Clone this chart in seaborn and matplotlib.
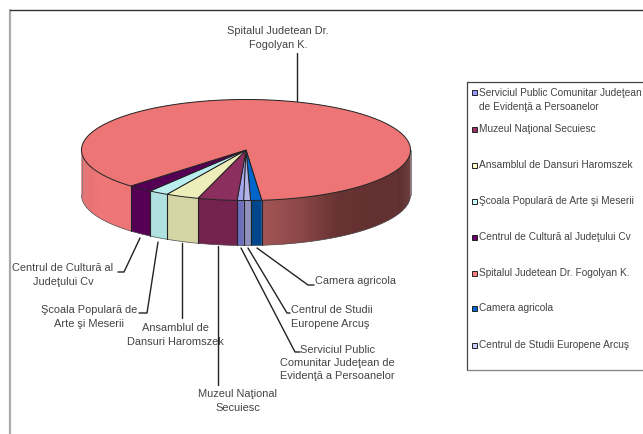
import numpy as np
import seaborn as sns
import matplotlib.pyplot as plt
from matplotlib.patches import Rectangle

sns.set_theme(style="white")
plt.rcParams['font.family'] = ['Liberation Sans', 'DejaVu Sans']

# Data, in legend order (clockwise round the pie)
names = ['Serviciul Public Comunitar Judeţean\nde Evidenţă a Persoanelor',
         'Muzeul Naţional Secuiesc',
         'Ansamblul de Dansuri Haromszek',
         'Şcoala Populară de Arte şi Meserii',
         'Centrul de Cultură al Judeţului Cv',
         'Spitalul Judetean Dr. Fogolyan K.',
         'Camera agricola',
         'Centrul de Studii Europene Arcuş']
shares = [0.67, 3.86, 3.25, 1.94, 2.44, 86.12, 1.08, 0.67]
labels = ['Serviciul Public\nComunitar Judeţean de\nEvidenţă a Persoanelor',
          'Muzeul Naţional\nSecuiesc',
          'Ansamblul de\nDansuri Haromszek',
          'Şcoala Populară de\nArte şi Meserii',
          'Centrul de Cultură al\nJudeţului Cv',
          'Spitalul Judetean Dr.\nFogolyan K.',
          'Camera agricola',
          'Centrul de Studii\nEuropene Arcuş']

legend_colors = sns.color_palette(['#9999FF', '#993366', '#FFFFCC', '#CCFFFF',
                                   '#660066', '#FF8080', '#0066CC', '#CCCCFF'])
top_colors = ['#A3A3EE', '#8C2F5E', '#EEEEBB', '#BBEEEE',
              '#550055', '#ED7575', '#0066CC', '#B4B4E6']
side_colors = ['#6E6EBE', '#74224E', '#D4D4A5', '#AFE1E1',
               '#550055', None, '#00468C', '#9191BE']

# pie geometry in picture pixels
cx, cy = 246, 150
a, b = 164.5, 50.5
depth = 45
start = 0.7
text_col = '#444444'

fig = plt.figure(figsize=(6.43, 4.34), dpi=100)
ax = fig.add_axes([0, 0, 1, 1])
ax.set_xlim(0, 643)
ax.set_ylim(434, 0)
ax.axis('off')


def rim(th):
    return cx - a * np.sin(np.radians(th)), cy + b * np.cos(np.radians(th))


def red_side(x):
    stops_x = [82, 100, 230, 262, 300, 340, 410]
    r = np.interp(x, stops_x, [226, 238, 235, 165, 140, 103, 95])
    g = np.interp(x, stops_x, [110, 118, 115, 85, 72, 50, 47])
    return (r / 255, g / 255, g / 255)


# frame of the chart
ax.plot([10, 10], [10, 434], color='#aaaaaa', lw=1.6)
ax.plot([10, 643], [10, 10], color='#333333', lw=1.0)

edges = start + np.concatenate([[0], np.cumsum(shares)]) * 3.6

# sides first, each strip runs under the next one so no seams show
for i in range(len(shares)):
    steps = np.append(np.arange(edges[i], edges[i + 1], 0.5), edges[i + 1])
    for k in range(len(steps) - 1):
        s0, s1 = steps[k], steps[min(k + 2, len(steps) - 1)]
        # only the front half of the rim shows
        if 90 < (s0 % 360) < 270:
            continue
        x0, y0 = rim(s0)
        x1, y1 = rim(s1)
        col = side_colors[i] if side_colors[i] else red_side(rim(steps[k])[0])
        ax.fill([x0, x1, x1, x0], [y0, y1, y1 + depth, y0 + depth],
                facecolor=col, edgecolor='none', lw=0, zorder=2)

# outline of the side
th = np.linspace(-90, 90, 300)
xs, ys = rim(th)
ax.plot(xs, ys + depth, color='#555555', lw=0.5, zorder=3)
ax.plot([cx - a, cx - a], [cy, cy + depth], color='#777777', lw=0.5, zorder=3)
ax.plot([cx + a, cx + a], [cy, cy + depth], color='#555555', lw=0.5, zorder=3)
for e in edges[:-1]:
    if (e % 360) < 90 or (e % 360) > 270:
        x0, y0 = rim(e)
        ax.plot([x0, x0], [y0, y0 + depth], color='#222222', lw=0.8, zorder=3)

# top faces
for i in range(len(shares)):
    th = np.linspace(edges[i], edges[i + 1], 400 if shares[i] > 50 else 30)
    xs, ys = rim(th)
    ax.fill(np.r_[cx, xs], np.r_[cy, ys], facecolor=top_colors[i],
            edgecolor='#222222', lw=0.7, zorder=4)

# leader lines and data labels
leaders = [([241, 295, 300], [248, 352, 352]),
           ([218, 218], [246, 385]),
           ([182, 182], [243, 318]),
           ([158, 147, 139], [242, 313, 313]),
           ([140, 124, 118], [238, 272, 272]),
           ([297, 297], [101, 53]),
           ([257, 308, 314], [248, 285, 285]),
           ([248, 287, 290], [248, 313, 313])]
label_pos = [(337, 363, 'center'), (238, 401, 'center'), (175, 335, 'center'),
             (89, 317, 'center'), (63, 275, 'center'), (278, 38, 'center'),
             (315, 281, 'left'), (291, 317, 'left')]
for i in range(len(labels)):
    ax.plot(leaders[i][0], leaders[i][1], color='#222222', lw=1.0, zorder=5)
    px, py, ha = label_pos[i]
    ax.text(px, py, labels[i], ha=ha, va='center', multialignment=ha,
            fontsize=7.9, color=text_col, linespacing=1.4, zorder=6)

# legend box
ax.plot([643, 467, 467], [82, 82, 370], color='#444444', lw=0.9)
ax.plot([467, 643], [370, 370], color='#888888', lw=1.0)
legend_y = [99.5, 129, 165, 201, 237, 273, 308, 345]
for i in range(len(names)):
    swatch_y = 92 if i == 0 else legend_y[i]
    ax.add_patch(Rectangle((472, swatch_y - 2.5), 5, 5, facecolor=legend_colors[i],
                           edgecolor='#222222', lw=0.7))
    ax.text(479, legend_y[i], names[i], ha='left', va='center', fontsize=7.25,
            color=text_col, linespacing=1.5)

plt.savefig('out.png', dpi=100)
